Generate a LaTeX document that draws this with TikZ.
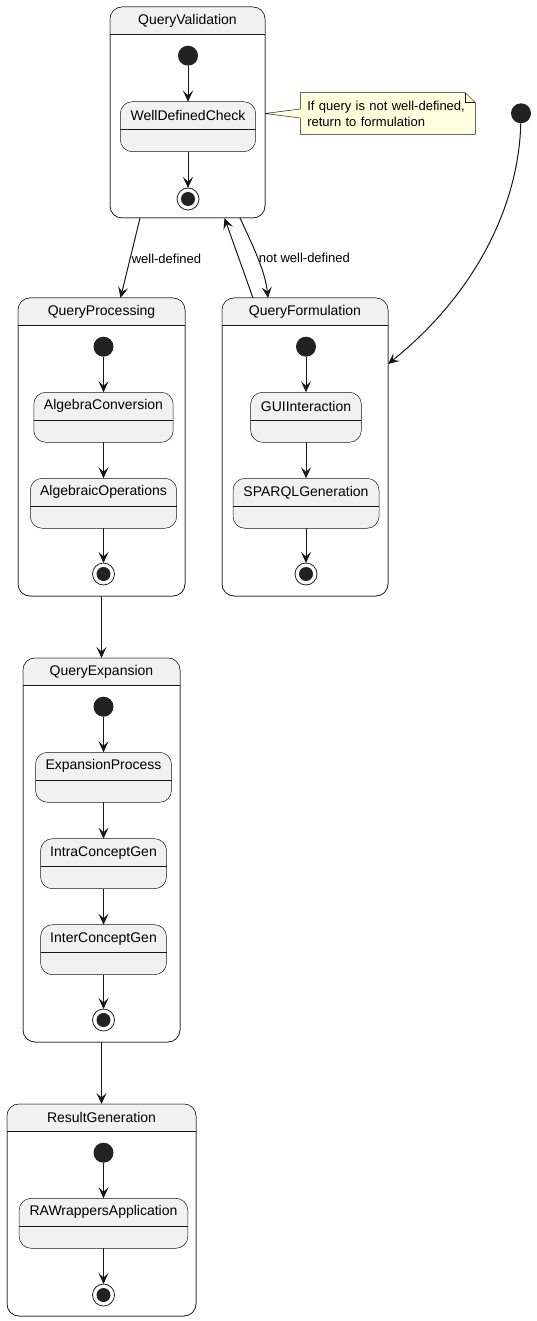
\documentclass[tikz,border=0pt]{standalone}
\usepackage{fontspec}
\setmainfont{Liberation Sans}
\usetikzlibrary{arrows.meta,positioning,calc,backgrounds}

\definecolor{linecol}{HTML}{181818}
\definecolor{statefill}{HTML}{F1F1F1}
\definecolor{dotcol}{HTML}{222222}
\definecolor{notefill}{HTML}{FEFFDD}

% header band, rule and title of a composite state
\newcommand{\comphead}[2]{%
  \begin{scope}
    \clip (#1.north west) rectangle ([yshift=-27pt]#1.north east);
    \fill[statefill,rounded corners=12pt] (#1.north west) rectangle (#1.south east);
  \end{scope}
  \draw[thinline] ([yshift=-27pt]#1.north west) -- ([yshift=-27pt]#1.north east);
  \draw[thinline,rounded corners=12pt] (#1.north west) rectangle (#1.south east);
  \node[title] (#1-t) at ([yshift=-13.5pt]#1.north) {#2};}

% simple state: name, top centre, width, title
\newcommand{\substate}[4]{%
  \node[sub,minimum width=#3,anchor=north] (#1) at (#2) {};
  \node[title] (#1-t) at ([yshift=-14pt]#1.north) {#4};
  \draw[thinline] ([yshift=-28pt]#1.north west) -- ([yshift=-28pt]#1.north east);}

\begin{document}
\begin{tikzpicture}[x=1pt,y=-1pt,>={Stealth[length=11pt,width=10pt,inset=4.5pt]},
  thinline/.style={draw=linecol,line width=0.5pt},
  comp/.style={thinline,fill=white,rounded corners=12pt,inner sep=0pt,outer sep=0pt},
  sub/.style={thinline,fill=statefill,rounded corners=12pt,minimum height=50pt,inner sep=0pt,outer sep=0pt},
  title/.style={font=\fontsize{14}{16}\selectfont,inner sep=0pt},
  initdot/.style={circle,fill=dotcol,minimum size=20pt,inner sep=0pt,outer sep=0pt},
  finaldot/.style={circle,draw=dotcol,line width=0.8pt,fill=white,minimum size=22pt,inner sep=0pt,outer sep=0pt,
    path picture={\fill[dotcol] (path picture bounding box.center) circle (7pt);}},
  arrow/.style={->,draw=linecol,line width=1pt},
  lbl/.style={font=\fontsize{13}{15}\selectfont,inner sep=1pt},
  note/.style={font=\fontsize{13}{16}\selectfont,align=left,text width=161pt,inner xsep=7pt,
    minimum height=41.6pt,outer sep=0pt}]
  \useasboundingbox (0,0) rectangle (536,1321);

  % composite states
  \node[comp,minimum width=155,minimum height=211,anchor=north west] (qv) at (110,7) {};
  \comphead{qv}{QueryValidation}
  \node[comp,minimum width=167,minimum height=298,anchor=north west] (qp) at (18,298) {};
  \comphead{qp}{QueryProcessing}
  \node[comp,minimum width=166,minimum height=298,anchor=north west] (qf) at (222,298) {};
  \comphead{qf}{QueryFormulation}
  \node[comp,minimum width=157,minimum height=384,anchor=north west] (qe) at (23,658) {};
  \comphead{qe}{QueryExpansion}
  \node[comp,minimum width=189,minimum height=212,anchor=north west] (rg) at (7,1104) {};
  \comphead{rg}{ResultGeneration}

  % QueryValidation
  \node[initdot] (qv-i) at (188,55.7) {};
  \substate{wdc}{188,101.7}{135.4}{WellDefinedCheck}
  \node[finaldot] (qv-f) at (188,199) {};
  \draw[arrow] (qv-i) -- (wdc);
  \draw[arrow] (wdc) -- (qv-f);

  % QueryProcessing
  \node[initdot] (qp-i) at (103.5,346.7) {};
  \substate{algc}{103.5,392.3}{139.4}{AlgebraConversion}
  \substate{algo}{103.5,478.3}{146.4}{AlgebraicOperations}
  \node[finaldot] (qp-f) at (103.5,574) {};
  \draw[arrow] (qp-i) -- (algc);
  \draw[arrow] (algc) -- (algo);
  \draw[arrow] (algo) -- (qp-f);

  % QueryFormulation
  \node[initdot] (qf-i) at (306,346.7) {};
  \substate{gui}{306,392.3}{110.7}{GUIInteraction}
  \substate{sparql}{306,478.3}{146}{SPARQLGeneration}
  \node[finaldot] (qf-f) at (306,574) {};
  \draw[arrow] (qf-i) -- (gui);
  \draw[arrow] (gui) -- (sparql);
  \draw[arrow] (sparql) -- (qf-f);

  % QueryExpansion
  \node[initdot] (qe-i) at (103.5,706.7) {};
  \substate{expp}{103.5,752.3}{136}{ExpansionProcess}
  \substate{intra}{103.5,838.7}{126}{IntraConceptGen}
  \substate{inter}{103.5,924.7}{126}{InterConceptGen}
  \node[finaldot] (qe-f) at (103.5,1020) {};
  \draw[arrow] (qe-i) -- (expp);
  \draw[arrow] (expp) -- (intra);
  \draw[arrow] (intra) -- (inter);
  \draw[arrow] (inter) -- (qe-f);

  % ResultGeneration
  \node[initdot] (rg-i) at (103.5,1152.7) {};
  \substate{raw}{103.5,1198.3}{168.7}{RAWrappersApplication}
  \node[finaldot] (rg-f) at (103.5,1295) {};
  \draw[arrow] (rg-i) -- (raw);
  \draw[arrow] (raw) -- (rg-f);

  % note
  \node[note] (nt) at (387.8,113.5) {If query is not well-defined,\\return to formulation};
  \begin{scope}[on background layer]
    \filldraw[thinline,fill=notefill] (nt.north west) -- ([xshift=-10pt]nt.north east)
      -- ([yshift=-10pt]nt.north east) -- (nt.south east) -- (nt.south west)
      -- ([yshift=-4.5pt]nt.west) -- (qv.east |- nt.west) -- ([yshift=4.5pt]nt.west) -- cycle;
    \draw[thinline] ([xshift=-10pt]nt.north east) -- ++(0,10) -- ++(10,0);
  \end{scope}

  % top level transitions
  \node[initdot] (start) at (521,113.3) {};
  \draw[arrow] (start) .. controls (519,200) and (480,290) .. ([yshift=-66pt]qf.north east);
  \draw[arrow] ([xshift=-47.5pt]qv.south) -- node[lbl,right,yshift=-1pt] {well-defined} ([xshift=19pt]qp.north);
  \draw[arrow] ([xshift=-52pt]qf.north) -- ([xshift=37pt]qv.south);
  \draw[arrow] ([xshift=52.5pt]qv.south) .. controls +(12,26) and +(-3,-28) ..
    node[lbl,right,pos=.5,yshift=-1pt] {not well-defined} ([xshift=-37pt]qf.north);
  \draw[arrow] (qp.south) -- (qp.south |- qe.north);
  \draw[arrow] (qe.south -| qp.south) -- (qp.south |- rg.north);
\end{tikzpicture}
\end{document}
